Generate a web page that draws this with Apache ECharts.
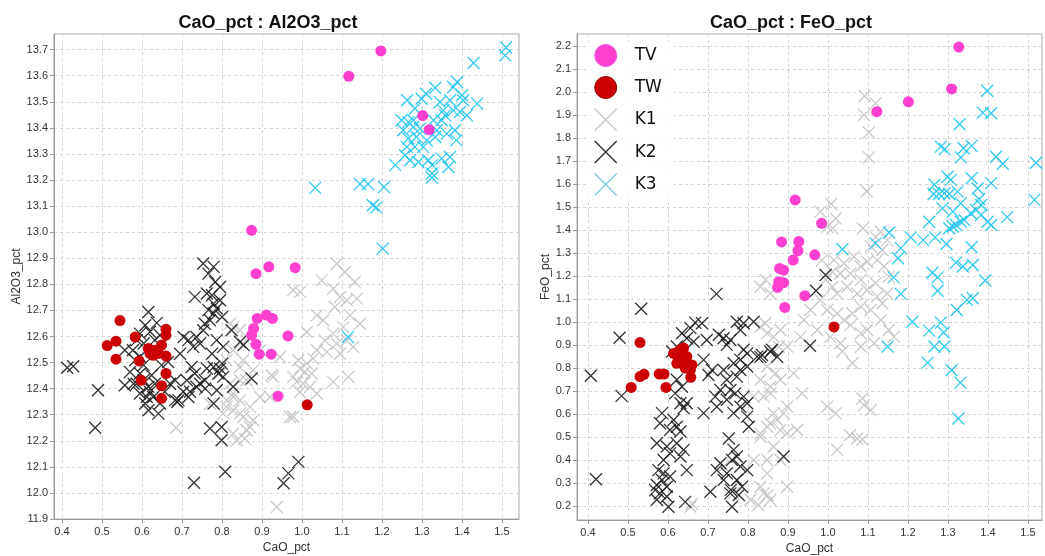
<!DOCTYPE html>
<html>
<head>
<meta charset="utf-8">
<title>CaO_pct scatter plots</title>
<script src="https://cdn.jsdelivr.net/npm/echarts@6/dist/echarts.min.js"></script>
<style>
  html, body { margin: 0; padding: 0; background: #fff; }
  #chart { width: 1045px; height: 556px; }
</style>
</head>
<body>
<div id="chart"></div>
<script>
// ---- tick labels ----
const caoTicks = ['0.4','0.5','0.6','0.7','0.8','0.9','1.0','1.1','1.2','1.3','1.4','1.5'];
const al2o3Ticks = ['11.9','12.0','12.1','12.2','12.3','12.4','12.5','12.6','12.7','12.8','12.9','13.0','13.1','13.2','13.3','13.4','13.5','13.6','13.7'];
const feoTicks = ['0.2','0.3','0.4','0.5','0.6','0.7','0.8','0.9','1.0','1.1','1.2','1.3','1.4','1.5','1.6','1.7','1.8','1.9','2.0','2.1','2.2'];

const groups = ['TV', 'TW', 'K1', 'K2', 'K3'];

// ---- CaO_pct : Al2O3_pct ----
const alTV = [[1.197,13.695],[1.117,13.598],[1.302,13.447],[1.318,13.393],[0.874,13.007],[0.885,12.841],[0.917,12.867],[0.983,12.864],[0.888,12.669],[0.911,12.682],[0.926,12.669],[0.879,12.631],[0.874,12.605],[0.885,12.57],[0.893,12.532],[0.923,12.532],[0.965,12.602],[0.94,12.371]];

const alTW = [[0.513,12.565],[0.535,12.582],[0.545,12.661],[0.535,12.513],[0.583,12.598],[0.593,12.506],[0.598,12.432],[0.616,12.554],[0.628,12.528],[0.632,12.547],[0.641,12.535],[0.649,12.567],[0.66,12.628],[0.66,12.605],[0.66,12.525],[0.66,12.458],[0.649,12.411],[0.649,12.363],[0.62,12.535],[1.013,12.338]];

const alK1 = [[1.087,12.879],[1.107,12.847],[1.049,12.815],[1.078,12.783],[1.132,12.809],[0.995,12.771],[1.095,12.751],[1.112,12.739],[1.137,12.745],[1.082,12.713],[1.037,12.681],[1.053,12.662],[1.12,12.681],[1.145,12.649],[1.103,12.636],[1.078,12.611],[1.012,12.617],[1.057,12.585],[1.087,12.572],[1.112,12.585],[1.128,12.56],[1.037,12.547],[1.062,12.541],[1.095,12.534],[0.991,12.509],[1.012,12.496],[1.028,12.515],[0.995,12.477],[1.007,12.464],[1.024,12.458],[0.978,12.445],[0.987,12.426],[1.003,12.419],[1.02,12.406],[0.995,12.387],[1.037,12.381],[1.078,12.426],[1.116,12.445],[0.97,12.291],[0.945,12.521],[0.924,12.451],[0.895,12.368],[0.87,12.33],[0.845,12.355],[0.828,12.317],[0.812,12.355],[0.853,12.291],[0.862,12.24],[0.837,12.202],[0.857,12.208],[0.87,12.253],[0.803,12.304],[0.828,12.381],[0.82,12.419],[0.845,12.432],[0.795,12.458],[0.77,12.342],[0.828,12.636],[0.853,12.509],[0.895,12.547],[0.937,11.946],[0.685,12.25],[0.82,12.649],[0.845,12.624],[0.861,12.586],[0.828,12.547],[0.811,12.509],[0.845,12.483],[0.878,12.471],[0.861,12.432],[0.828,12.368],[0.811,12.33],[0.845,12.304],[0.878,12.279],[0.861,12.241],[0.828,12.228],[0.978,12.777],[0.928,12.445],[0.92,12.368],[0.978,12.292]];

const alK2 = [[0.413,12.48],[0.428,12.486],[0.49,12.394],[0.483,12.25],[0.77,12.247],[0.799,12.253],[0.799,12.202],[0.808,12.081],[0.991,12.119],[0.966,12.075],[0.954,12.037],[0.874,12.439],[0.854,12.567],[0.828,12.407],[0.758,12.4],[0.73,12.039],
  [0.616,12.694],[0.608,12.643],[0.637,12.652],[0.595,12.611],[0.62,12.618],[0.587,12.586],[0.577,12.547],[0.604,12.573],[0.632,12.586],[0.645,12.605],[0.595,12.522],[0.583,12.509],[0.557,12.413],[0.579,12.419],[0.595,12.458],[0.604,12.432],[0.616,12.407],[0.595,12.381],[0.612,12.368],[0.608,12.343],[0.62,12.388],[0.632,12.419],[0.628,12.368],[0.616,12.317],[0.641,12.304],[0.645,12.343],[0.657,12.388],[0.67,12.419],[0.683,12.432],[0.691,12.356],[0.703,12.388],[0.712,12.432],[0.704,12.598],[0.716,12.586],[0.695,12.534],[0.724,12.483],[0.732,12.458],[0.745,12.419],[0.757,12.432],[0.736,12.407],[0.762,12.477],[0.779,12.483],[0.795,12.477],[0.8,12.496],[0.791,12.458],[0.745,12.573],[0.736,12.598],[0.753,12.624],[0.77,12.662],[0.779,12.688],[0.766,12.701],[0.787,12.707],[0.779,12.726],[0.795,12.739],[0.775,12.758],[0.795,12.79],[0.783,12.809],[0.766,12.841],[0.753,12.88],[0.779,12.867],[0.732,12.752],[0.762,12.765],[0.8,12.675],[0.803,12.56],[0.787,12.586],[0.775,12.534],[0.803,12.445],[0.787,12.394],[0.779,12.343],[0.716,12.368],[0.688,12.349],[0.665,12.502],[0.649,12.49],[0.57,12.464],[0.557,12.547],[0.624,12.451],[0.604,12.49],[0.587,12.419],[0.845,12.579],[0.824,12.624],[0.72,12.388],[0.757,12.649],[0.728,12.56],[0.683,12.356]];

const alK3 = [[1.51,13.708],[1.508,13.678],[1.429,13.649],[1.388,13.576],[1.378,13.557],[1.333,13.554],[1.31,13.531],[1.263,13.506],[1.299,13.512],[1.4,13.525],[1.403,13.506],[1.438,13.493],[1.345,13.499],[1.37,13.506],[1.282,13.474],[1.353,13.467],[1.378,13.467],[1.395,13.461],[1.412,13.448],[1.358,13.448],[1.249,13.429],[1.266,13.422],[1.278,13.429],[1.329,13.429],[1.349,13.429],[1.253,13.391],[1.278,13.403],[1.295,13.397],[1.337,13.391],[1.362,13.378],[1.382,13.391],[1.266,13.359],[1.286,13.365],[1.312,13.352],[1.333,13.365],[1.386,13.352],[1.262,13.327],[1.282,13.327],[1.303,13.327],[1.258,13.295],[1.27,13.276],[1.291,13.269],[1.316,13.276],[1.349,13.282],[1.37,13.288],[1.233,13.257],[1.325,13.257],[1.366,13.25],[1.325,13.225],[1.325,13.209],[1.205,13.173],[1.177,13.103],[1.186,13.095],[1.202,12.937],[1.145,13.185],[1.165,13.185],[1.033,13.17],[1.115,12.598]];

// ---- CaO_pct : FeO_pct ----
const feTV = [[1.201,1.959],[1.122,1.916],[0.918,1.532],[0.984,1.43],[0.884,1.349],[0.927,1.351],[0.925,1.311],[0.967,1.293],[0.913,1.27],[0.879,1.234],[0.889,1.226],[0.877,1.176],[0.889,1.172],[0.874,1.151],[0.942,1.115],[0.892,1.064],[1.327,2.197],[1.309,2.015]];

const feTW = [[0.53,0.911],[0.508,0.716],[0.53,0.763],[0.54,0.773],[0.578,0.774],[0.59,0.774],[0.595,0.716],[0.614,0.864],[0.631,0.88],[0.639,0.887],[0.626,0.843],[0.622,0.821],[0.635,0.828],[0.647,0.85],[0.647,0.814],[0.66,0.814],[0.656,0.794],[0.643,0.8],[0.657,0.76],[0.631,0.85],[1.015,0.979]];

const feK1 = [[1.092,1.984],[1.119,1.952],[1.09,1.902],[1.102,1.825],[1.102,1.717],[1.097,1.57],[1.008,1.514],[0.981,1.481],[1.019,1.451],[0.998,1.415],[1.011,1.408],[1.087,1.408],[1.119,1.371],[1.132,1.394],[1.148,1.357],[1.107,1.329],[1.136,1.314],[0.985,1.27],[1.015,1.27],[1.04,1.256],[1.065,1.285],[1.082,1.242],[1.098,1.263],[1.123,1.27],[1.14,1.242],[1.152,1.198],[1.119,1.169],[1.082,1.184],[1.056,1.212],[1.031,1.212],[1.011,1.219],[0.994,1.184],[1.011,1.154],[1.023,1.125],[1.048,1.154],[1.073,1.125],[1.098,1.14],[1.123,1.111],[1.148,1.125],[1.136,1.081],[1.107,1.053],[1.082,1.067],[1.061,1.038],[1.04,1.009],[1.023,1.038],[0.998,1.053],[0.981,1.097],[0.956,1.053],[0.94,1.009],[0.931,0.936],[0.973,0.966],[1.006,0.936],[1.031,0.908],[1.056,0.987],[1.082,0.951],[1.098,0.966],[1.115,0.908],[1.082,0.893],[1.061,0.821],[1.036,0.872],[1.152,0.966],[1.165,0.936],[1.132,1.009],[0.935,0.69],[0.998,0.632],[1.019,0.603],[1.086,0.668],[1.09,0.639],[1.107,0.617],[1.055,0.508],[1.073,0.494],[1.086,0.489],[1.023,0.444],[0.844,1.184],[0.856,1.125],[0.831,0.98],[0.848,0.951],[0.864,0.936],[0.877,0.893],[0.869,0.777],[0.856,0.719],[0.839,0.676],[0.864,0.603],[0.856,0.559],[0.881,0.53],[0.831,0.516],[0.864,0.458],[0.848,0.4],[0.889,0.603],[0.848,0.342],[0.839,0.255],[0.831,1.154],[0.843,0.995],[0.881,0.966],[0.898,0.894],[0.873,0.85],[0.848,0.807],[0.881,0.749],[0.914,0.777],[0.831,0.749],[0.814,0.676],[0.856,0.69],[0.898,0.632],[0.873,0.574],[0.848,0.545],[0.898,0.517],[0.831,0.501],[0.814,0.4],[0.881,0.4],[0.798,0.356],[0.831,0.284],[0.898,0.284],[0.856,0.227],[0.806,0.227],[0.764,0.255],[0.747,0.342],[0.772,0.313],[0.739,0.372],[0.923,0.531],[0.656,0.197],[0.826,0.204],[0.849,0.248],[0.66,0.21]];

const feK2 = [[0.721,1.123],[0.533,1.058],[0.479,0.932],[0.407,0.767],[0.484,0.679],[0.42,0.316],[0.668,0.998],[0.685,0.995],[0.656,0.974],[0.772,1.002],[0.789,0.995],[0.781,0.966],[0.814,1.002],[0.635,0.952],[0.647,0.93],[0.664,0.915],[0.622,0.894],[0.61,0.872],[0.697,0.922],[0.727,0.945],[0.739,0.93],[0.756,0.922],[0.747,0.901],[0.789,0.88],[0.798,0.864],[0.781,0.836],[0.764,0.821],[0.798,0.807],[0.781,0.792],[0.772,0.763],[0.823,0.85],[0.835,0.857],[0.86,0.88],[0.689,0.836],[0.701,0.77],[0.71,0.792],[0.739,0.792],[0.747,0.749],[0.731,0.705],[0.756,0.705],[0.768,0.69],[0.789,0.676],[0.781,0.632],[0.798,0.647],[0.747,0.662],[0.622,0.749],[0.635,0.719],[0.618,0.69],[0.631,0.647],[0.647,0.647],[0.639,0.625],[0.585,0.604],[0.614,0.574],[0.622,0.545],[0.605,0.531],[0.631,0.524],[0.58,0.56],[0.689,0.604],[0.722,0.632],[0.718,0.676],[0.764,0.604],[0.798,0.589],[0.802,0.545],[0.572,0.473],[0.597,0.459],[0.622,0.473],[0.639,0.444],[0.605,0.429],[0.631,0.415],[0.589,0.4],[0.576,0.356],[0.589,0.342],[0.605,0.328],[0.585,0.313],[0.572,0.291],[0.597,0.284],[0.58,0.255],[0.597,0.241],[0.572,0.227],[0.601,0.197],[0.647,0.356],[0.643,0.218],[0.568,0.269],[0.752,0.494],[0.764,0.444],[0.772,0.415],[0.76,0.4],[0.781,0.372],[0.731,0.386],[0.722,0.356],[0.747,0.342],[0.739,0.313],[0.772,0.313],[0.785,0.284],[0.756,0.255],[0.76,0.197],[0.706,0.262],[0.798,0.356],[0.889,0.415],[0.994,1.205],[0.97,1.137],[0.955,0.897],[0.873,0.849],[0.856,0.871],[0.831,0.849],[0.757,0.27],[0.777,0.248]];

const feK3 = [[1.398,2.007],[1.387,1.912],[1.408,1.909],[1.329,1.861],[1.282,1.764],[1.292,1.753],[1.339,1.757],[1.359,1.767],[1.332,1.717],[1.42,1.72],[1.437,1.689],[1.52,1.694],[1.408,1.605],[1.516,1.532],[1.299,1.633],[1.307,1.619],[1.266,1.598],[1.264,1.558],[1.278,1.558],[1.291,1.561],[1.303,1.558],[1.324,1.568],[1.332,1.517],[1.312,1.481],[1.286,1.495],[1.359,1.626],[1.374,1.582],[1.378,1.535],[1.383,1.51],[1.37,1.488],[1.357,1.474],[1.383,1.467],[1.399,1.437],[1.408,1.423],[1.448,1.457],[1.332,1.437],[1.32,1.423],[1.303,1.409],[1.312,1.416],[1.341,1.444],[1.253,1.437],[1.207,1.369],[1.238,1.357],[1.268,1.369],[1.296,1.34],[1.182,1.322],[1.153,1.39],[1.175,1.278],[1.359,1.326],[1.32,1.259],[1.337,1.242],[1.362,1.249],[1.261,1.215],[1.274,1.195],[1.274,1.137],[1.164,1.195],[1.393,1.181],[1.182,1.123],[1.322,1.053],[1.347,1.097],[1.362,1.104],[1.211,1.002],[1.253,0.963],[1.282,0.998],[1.289,0.955],[1.149,0.894],[1.266,0.894],[1.291,0.894],[1.249,0.824],[1.309,0.791],[1.331,0.737],[1.326,0.581],[1.036,1.317],[1.119,1.343]];

// ---- styling ----
const colors = { TV: '#ff3fcf', TW: '#cc0000', K1: '#c9c9c9', K2: '#1c1c1c', K3: '#2ec8f2' };
const crossPath = 'path://M0,0L10,10M10,0L0,10';
const font = 'Liberation Sans, Arial, sans-serif';

function scatter(name, data, idx, z) {
  const isDot = name === 'TV' || name === 'TW';
  const s = {
    name: name,
    type: 'scatter',
    xAxisIndex: idx,
    yAxisIndex: idx,
    data: data,
    z: z,
    silent: true,
    emphasis: { disabled: true }
  };
  if (isDot) {
    s.symbol = 'circle';
    s.symbolSize = 11;
    s.itemStyle = { color: colors[name], opacity: 1 };
  } else {
    s.symbol = crossPath;
    s.symbolSize = 12;
    s.itemStyle = { color: 'rgba(0,0,0,0)', borderColor: colors[name], borderWidth: 1.3, opacity: name === 'K2' ? 0.9 : 1 };
  }
  return s;
}

function xAxis(gridIndex, min, max) {
  const vals = caoTicks.map(Number);
  return {
    type: 'value', gridIndex: gridIndex, min: min, max: max,
    name: 'CaO_pct', nameLocation: 'middle', nameGap: 22,
    nameTextStyle: { color: '#333', fontSize: 12, fontFamily: font },
    axisLine: { show: true, lineStyle: { color: '#999', width: 1 } },
    axisTick: { show: true, length: 4, lineStyle: { color: '#999' }, customValues: vals },
    axisLabel: { color: '#333', fontSize: 11, fontFamily: font, margin: 7, customValues: vals, formatter: v => v.toFixed(1) },
    splitLine: { show: true, lineStyle: { color: '#d3d3d3', type: [3, 3], width: 1 } }
  };
}

function yAxis(gridIndex, name, ticks, min, max, gap) {
  const vals = ticks.map(Number);
  return {
    type: 'value', gridIndex: gridIndex, min: min, max: max,
    name: name, nameLocation: 'middle', nameGap: gap, nameRotate: 90,
    nameTextStyle: { color: '#333', fontSize: 12, fontFamily: font },
    axisLine: { show: true, lineStyle: { color: '#999', width: 1 } },
    axisTick: { show: true, length: 4, lineStyle: { color: '#999' }, customValues: vals },
    axisLabel: { color: '#333', fontSize: 11, fontFamily: font, margin: 6, customValues: vals, formatter: v => v.toFixed(1) },
    splitLine: { show: true, lineStyle: { color: '#d3d3d3', type: [3, 3], width: 1 } }
  };
}

const legendItems = groups.map(g => {
  const dot = g === 'TV' || g === 'TW';
  return {
    name: g,
    icon: dot ? 'circle' : crossPath,
    itemStyle: dot
      ? { color: colors[g], borderColor: g === 'TW' ? '#990000' : '#ee55dd', borderWidth: 1 }
      : { color: 'rgba(0,0,0,0)', borderColor: g === 'K3' ? '#7fcfd8' : colors[g], borderWidth: 1.4 }
  };
});

const option = {
  animation: false,
  backgroundColor: '#fff',
  title: [
    { text: 'CaO_pct : Al2O3_pct', left: 263, top: 9, textAlign: 'center',
      textStyle: { fontSize: 18, fontWeight: 'bold', color: '#111', fontFamily: font } },
    { text: 'CaO_pct : FeO_pct', left: 786, top: 9, textAlign: 'center',
      textStyle: { fontSize: 18, fontWeight: 'bold', color: '#111', fontFamily: font } }
  ],
  grid: [
    { left: 54, top: 34, width: 465, height: 485, show: true, borderColor: '#aaa', borderWidth: 1, backgroundColor: '#fff', outerBoundsMode: 'none', containLabel: false },
    { left: 577, top: 34, width: 465, height: 486, show: true, borderColor: '#aaa', borderWidth: 1, backgroundColor: '#fff', outerBoundsMode: 'none', containLabel: false }
  ],
  xAxis: [ xAxis(0, 0.38, 1.5425), xAxis(1, 0.3725, 1.535) ],
  yAxis: [
    yAxis(0, 'Al2O3_pct', al2o3Ticks, 11.9, 13.76, 27),
    yAxis(1, 'FeO_pct', feoTicks, 0.139, 2.254, 24)
  ],
  legend: {
    data: legendItems,
    orient: 'vertical',
    left: 588, top: 42,
    itemWidth: 22, itemHeight: 22, itemGap: 9,
    padding: [2, 12, 2, 6],
    backgroundColor: 'rgba(255,255,255,0.9)',
    selectedMode: false,
    textStyle: { fontSize: 17, color: '#111', fontFamily: 'DejaVu Sans, sans-serif', padding: [0, 0, 0, 13] }
  },
  series: [
    scatter('K1', alK1, 0, 1), scatter('K3', alK3, 0, 2), scatter('K2', alK2, 0, 3), scatter('TW', alTW, 0, 4), scatter('TV', alTV, 0, 5),
    scatter('K1', feK1, 1, 1), scatter('K3', feK3, 1, 2), scatter('K2', feK2, 1, 3), scatter('TW', feTW, 1, 4), scatter('TV', feTV, 1, 5)
  ]
};

const chart = echarts.init(document.getElementById('chart'), null, { renderer: 'canvas' });
chart.setOption(option);
</script>
</body>
</html>
